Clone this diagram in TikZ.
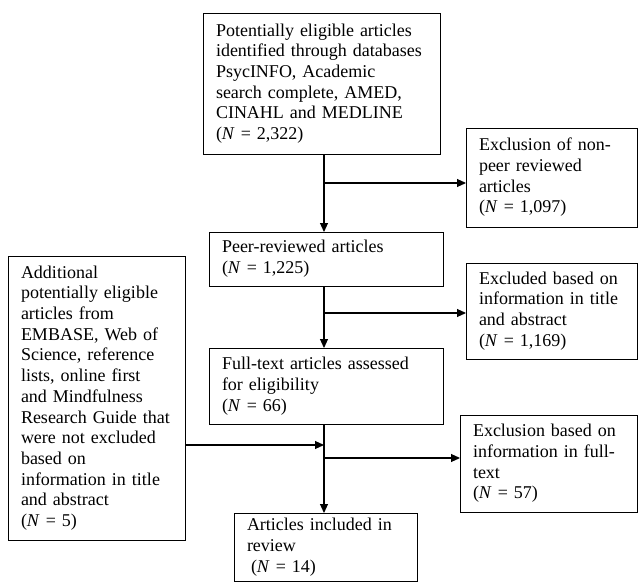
\documentclass[tikz,border=0pt]{standalone}
\usepackage{fontspec}
\setmainfont{Liberation Serif}
\usetikzlibrary{arrows.meta}
\begin{document}
\begin{tikzpicture}[x=1pt,y=-1pt,
  box/.style={draw=black, line width=0.9pt, inner xsep=13pt, inner ysep=1pt, outer sep=0pt,
    align=left, anchor=north west, font=\fontsize{18}{20.7}\selectfont},
  arr/.style={line width=1.1pt, -{Triangle[length=9pt,width=8pt]}},
  ln/.style={line width=1.1pt}]
\useasboundingbox (0,0) rectangle (638,586);
\node[box, minimum width=237pt, minimum height=141pt, text width=211pt] (b1) at (203,13)
  {Potentially eligible articles\\identified~through~databases\\PsycINFO, Academic\\search complete, AMED,\\CINAHL and MEDLINE\\(\textit{N} = 2,322)};
\node[box, minimum width=171pt, minimum height=99pt, text width=145pt] (ex1) at (466,128)
  {Exclusion~of~non-\\peer reviewed\\articles\\(\textit{N} = 1,097)};
\node[box, minimum width=234pt, minimum height=54pt, text width=208pt] (b2) at (209,232)
  {Peer-reviewed articles\\(\textit{N} = 1,225)};
\node[box, minimum width=171pt, minimum height=96pt, text width=145pt] (ex2) at (466,263)
  {Excluded~based~on\\information~in~title\\and abstract\\(\textit{N} = 1,169)};
\node[box, minimum width=234pt, minimum height=76pt, text width=208pt] (b3) at (209,348)
  {Full-text~articles~assessed\\for eligibility\\(\textit{N} = 66)};
\node[box, minimum width=177pt, minimum height=284pt, text width=151pt] (add) at (8,256)
  {Additional\\potentially~eligible\\articles from\\EMBASE,~Web~of\\Science,~reference\\lists, online first\\and Mindfulness\\Research~Guide~that\\were~not~excluded\\based on\\information~in~title\\and abstract\\(\textit{N} = 5)};
\node[box, minimum width=177pt, minimum height=97pt, text width=151pt] (ex3) at (460,415)
  {Exclusion~based~on\\information~in~full-\\text\\(\textit{N} = 57)};
\node[box, minimum width=183pt, minimum height=68pt, text width=157pt] (b4) at (234,513)
  {Articles~included~in\\review\\\hspace*{4pt}(\textit{N} = 14)};
\coordinate (col) at (324,0);
\coordinate (j1) at (324,183);
\coordinate (j2) at (324,313);
\coordinate (j3) at (324,445);
\coordinate (j4) at (324,458);
\draw[arr] (b1.south -| col) -- (b2.north -| col);
\draw[arr] (j1) -- (j1 -| ex1.west);
\draw[arr] (b2.south -| col) -- (b3.north -| col);
\draw[arr] (j2) -- (j2 -| ex2.west);
\draw[arr] (b3.south -| col) -- (b4.north -| col);
\draw[arr] (add.east |- j3) -- (j3);
\draw[arr] (j4) -- (j4 -| ex3.west);
\end{tikzpicture}
\end{document}
